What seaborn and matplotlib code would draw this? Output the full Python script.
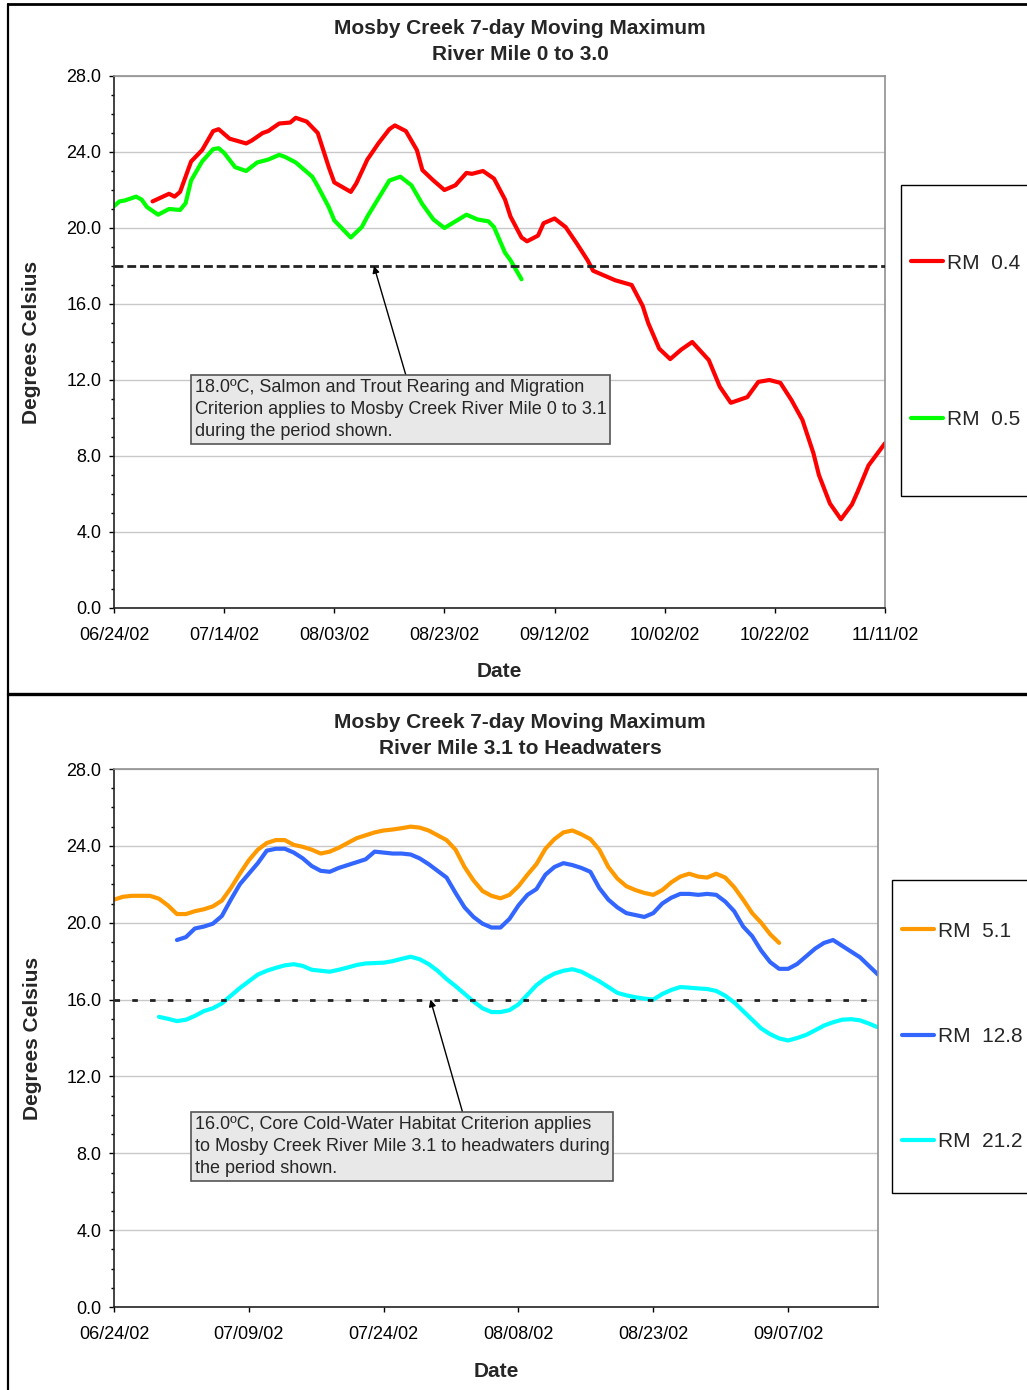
import numpy as np
import pandas as pd
import seaborn as sns
import matplotlib
matplotlib.use("Agg")
import matplotlib.pyplot as plt
import matplotlib.dates as mdates
from matplotlib.ticker import MultipleLocator, FormatStrFormatter
from matplotlib.patches import Rectangle
from matplotlib.lines import Line2D

sns.set_theme(style="white")
plt.rcParams['font.family'] = ['Liberation Sans', 'DejaVu Sans']

START = pd.Timestamp("2002-06-24")

# ---- top chart: River Mile 0 to 3.0 (days after 06/24/02, degrees C)
rm04_day = [7, 10, 11, 12, 14, 16, 18, 19, 21, 24, 25, 27, 28, 30, 32, 33, 35, 37, 39, 40,
            43, 44, 46, 48, 50, 51, 53, 55, 56, 58, 60, 62, 64, 65, 67, 69, 71, 72, 74, 75,
            77, 78, 80, 82, 84, 86, 87, 89, 91, 94, 96, 97, 99, 101, 103, 105, 108, 110, 112, 115,
            117, 119, 121, 123, 125, 127, 128, 130, 132, 134, 135, 137, 140]
rm04_temp = [21.4, 21.8, 21.65, 21.9, 23.5, 24.1, 25.1, 25.2, 24.7, 24.45, 24.6, 25.0, 25.1, 25.5, 25.55, 25.8, 25.6, 25.0, 23.2, 22.4,
             21.9, 22.35, 23.6, 24.45, 25.2, 25.4, 25.1, 24.1, 23.05, 22.5, 22.0, 22.25, 22.9, 22.85, 23.0, 22.6, 21.5, 20.6, 19.5, 19.3,
             19.6, 20.25, 20.5, 20.05, 19.2, 18.3, 17.75, 17.5, 17.25, 17.0, 15.9, 15.0, 13.65, 13.1, 13.6, 14.0, 13.05, 11.65, 10.8, 11.1,
             11.9, 12.0, 11.85, 10.95, 9.9, 8.15, 7.0, 5.5, 4.67, 5.45, 6.1, 7.5, 8.67]

rm05_day = [0, 1, 2, 4, 5, 6, 8, 10, 12, 13, 14, 16, 18, 19, 20, 22, 24, 26, 28, 30,
            31, 33, 36, 37, 39, 40, 43, 45, 46, 48, 50, 52, 54, 56, 58, 60, 62, 64, 66, 68,
            69, 71, 72, 74]
rm05_temp = [21.15, 21.4, 21.45, 21.65, 21.5, 21.1, 20.7, 21.0, 20.95, 21.3, 22.5, 23.5, 24.15, 24.2, 23.95, 23.2, 23.0, 23.45, 23.6, 23.85,
             23.75, 23.45, 22.7, 22.2, 21.1, 20.4, 19.5, 20.05, 20.6, 21.55, 22.5, 22.7, 22.25, 21.25, 20.45, 20.0, 20.35, 20.7, 20.45, 20.35,
             20.05, 18.7, 18.3, 17.3]

# ---- bottom chart: River Mile 3.1 to Headwaters
rm51_day = list(range(0, 75))
rm51_temp = [21.2, 21.35, 21.4, 21.4, 21.4, 21.25, 20.9, 20.45, 20.45, 20.6,
             20.7, 20.85, 21.15, 21.8, 22.55, 23.25, 23.8, 24.15, 24.3, 24.3,
             24.05, 23.95, 23.8, 23.6, 23.7, 23.9, 24.15, 24.4, 24.55, 24.7,
             24.8, 24.85, 24.92, 25.0, 24.95, 24.8, 24.55, 24.3, 23.8, 22.9,
             22.2, 21.65, 21.4, 21.27, 21.45, 21.9, 22.5, 23.05, 23.85, 24.35,
             24.7, 24.8, 24.6, 24.35, 23.8, 22.9, 22.3, 21.9, 21.7, 21.55,
             21.45, 21.7, 22.1, 22.4, 22.55, 22.4, 22.35, 22.55, 22.35, 21.85,
             21.2, 20.5, 20.0, 19.4, 18.95]

rm128_day = list(range(7, 86))
rm128_temp = [19.1, 19.25, 19.7, 19.8, 19.95, 20.35, 21.2, 22.0, 22.55, 23.1,
              23.75, 23.85, 23.85, 23.65, 23.35, 22.95, 22.7, 22.65, 22.85, 23.0,
              23.15, 23.3, 23.7, 23.65, 23.6, 23.6, 23.55, 23.35, 23.05, 22.7,
              22.35, 21.55, 20.8, 20.3, 19.95, 19.75, 19.75, 20.2, 20.9, 21.45,
              21.75, 22.5, 22.9, 23.1, 23.0, 22.85, 22.65, 21.8, 21.2, 20.8,
              20.5, 20.4, 20.3, 20.5, 21.0, 21.3, 21.5, 21.5, 21.45, 21.5,
              21.45, 21.1, 20.6, 19.8, 19.3, 18.55, 17.95, 17.6, 17.6, 17.85,
              18.25, 18.65, 18.95, 19.1, 18.8, 18.5, 18.2, 17.75, 17.3]

rm212_day = list(range(5, 86))
rm212_temp = [15.1, 15.0, 14.88, 14.95, 15.15, 15.4, 15.55, 15.8, 16.2, 16.6,
              16.95, 17.3, 17.5, 17.65, 17.78, 17.84, 17.75, 17.55, 17.5, 17.45,
              17.55, 17.67, 17.8, 17.88, 17.9, 17.92, 18.0, 18.12, 18.23, 18.1,
              17.85, 17.5, 17.07, 16.7, 16.3, 15.9, 15.55, 15.35, 15.35, 15.45,
              15.75, 16.25, 16.75, 17.1, 17.35, 17.5, 17.58, 17.45, 17.2, 16.95,
              16.65, 16.35, 16.22, 16.12, 16.05, 16.0, 16.29, 16.5, 16.65, 16.62,
              16.58, 16.55, 16.45, 16.2, 15.85, 15.4, 14.95, 14.5, 14.2, 13.98,
              13.87, 14.0, 14.16, 14.4, 14.65, 14.82, 14.95, 14.98, 14.92, 14.75,
              14.55]

top_sites = ["RM  0.4", "RM  0.5"]
top_colors = ["#ff0000", "#00ff00"]
bot_sites = ["RM  5.1", "RM  12.8", "RM  21.2"]
bot_colors = ["#ff9900", "#3366ff", "#00ffff"]

note_top = ("18.0ºC, Salmon and Trout Rearing and Migration\n"
            "Criterion applies to Mosby Creek River Mile 0 to 3.1\n"
            "during the period shown.")
note_bot = ("16.0ºC, Core Cold-Water Habitat Criterion applies\n"
            "to Mosby Creek River Mile 3.1 to headwaters during\n"
            "the period shown.")


def long_frame(days, temps, sites):
    parts = []
    for d, t, s in zip(days, temps, sites):
        parts.append(pd.DataFrame({"date": START + pd.to_timedelta(d, unit="D"),
                                   "temp": t, "site": s}))
    return pd.concat(parts, ignore_index=True)


top_df = long_frame([rm04_day, rm05_day], [rm04_temp, rm05_temp], top_sites)
bot_df = long_frame([rm51_day, rm128_day, rm212_day],
                    [rm51_temp, rm128_temp, rm212_temp], bot_sites)

W, H = 1027, 1390
fig = plt.figure(figsize=(W / 100, H / 100), dpi=100)
fig.patch.set_facecolor("white")


def fx(px):
    return px / W


def fy(py):
    return 1 - py / H


def style_axes(ax, ndays, step, nticks, xlab_y, ylab_x):
    ax.set_ylim(0, 28)
    ax.set_xlim(START, START + pd.Timedelta(days=ndays))
    ax.set_yticks(np.arange(0, 28.1, 4))
    ax.yaxis.set_major_formatter(FormatStrFormatter("%.1f"))
    ax.yaxis.set_minor_locator(MultipleLocator(1))
    ax.set_xticks(pd.date_range(START, periods=nticks, freq=f"{step}D"))
    ax.xaxis.set_major_formatter(mdates.DateFormatter("%m/%d/%y"))
    ax.grid(axis="y", which="major", color="#c8c8c8", lw=1)
    ax.set_axisbelow(True)
    ax.tick_params(which="both", direction="out", colors="black", labelsize=13)
    ax.tick_params(axis="y", which="major", left=True, length=3.6, width=1, pad=5.5)
    ax.tick_params(axis="y", which="minor", left=True, length=2.3, width=1)
    ax.tick_params(axis="x", which="major", bottom=True, length=3.6, width=1, pad=10)
    for s in ["top", "right"]:
        ax.spines[s].set_color("#909090")
        ax.spines[s].set_linewidth(1.2)
    for s in ["left", "bottom"]:
        ax.spines[s].set_color("#222222")
        ax.spines[s].set_linewidth(1.2)
    ax.set_xlabel("Date", fontsize=15, fontweight="bold")
    ax.set_ylabel("Degrees Celsius", fontsize=15, fontweight="bold")
    ax.xaxis.set_label_coords(0.5, xlab_y)
    ax.xaxis.label.set_va("center")
    ax.yaxis.set_label_coords(ylab_x, 0.5)
    ax.yaxis.label.set_va("center")


def panel(df, sites, colors, rect, ndays, step, nticks, crit, dash, note,
          arrow_day, text_day, text_temp, relx, xlab_y, ylab_x,
          title_y, legend_box, legend_y, legend_x, spacing):
    ax = fig.add_axes(rect)
    sns.lineplot(data=df, x="date", y="temp", hue="site", hue_order=sites,
                 palette=dict(zip(sites, colors)), lw=3, sort=True,
                 errorbar=None, ax=ax)
    leg = ax.get_legend()
    handles = leg.legend_handles
    labels = [t.get_text() for t in leg.get_texts()]
    leg.remove()
    for h in handles:
        h.set_linewidth(3)
    for ln in ax.get_lines():
        ln.set_solid_joinstyle("round")
        ln.set_solid_capstyle("round")
    ax.axhline(crit, color="#222222", lw=2.0, ls=(0, dash), zorder=3)
    style_axes(ax, ndays, step, nticks, xlab_y, ylab_x)
    ax.annotate(note,
                xy=(mdates.date2num(START + pd.Timedelta(days=arrow_day)), crit),
                xytext=(mdates.date2num(START + pd.Timedelta(days=text_day)), text_temp),
                textcoords="data", ha="left", va="top", fontsize=13, linespacing=1.38,
                bbox=dict(boxstyle="square,pad=0.2", fc="#e8e8e8", ec="#555555", lw=1.2),
                arrowprops=dict(arrowstyle="-|>", color="black", lw=1, mutation_scale=10,
                                shrinkA=0, shrinkB=0, relpos=(relx, 1.0)),
                zorder=6)
    fig.text(fx(520), fy(title_y[0]), "Mosby Creek 7-day Moving Maximum",
             ha="center", va="center", fontsize=15, fontweight="bold")
    fig.text(fx(520), fy(title_y[1]), title_y[2],
             ha="center", va="center", fontsize=15, fontweight="bold")
    bx, by0, by1 = legend_box
    fig.add_artist(Rectangle((fx(bx), fy(by1)), 0.3, (by1 - by0) / H,
                             transform=fig.transFigure, fc="white", ec="black",
                             lw=1, zorder=1))
    fig.legend(handles, labels, loc="center left",
               bbox_to_anchor=(fx(legend_x), fy(legend_y)),
               bbox_transform=fig.transFigure, frameon=False, fontsize=15,
               handlelength=1.55, handletextpad=0.2, labelspacing=spacing,
               borderpad=0, borderaxespad=0)
    return ax


panel(top_df, top_sites, top_colors,
      [fx(114), fy(608), fx(885) - fx(114), (608 - 76) / H],
      140, 20, 8, 18.0, (3.2, 1.4), note_top,
      47.2, 14.7, 12.05, 0.515, -0.1185, -0.1064,
      (29, 55, "River Mile 0 to 3.0"), (901, 185, 496), 341.5, 911, 6.6)

panel(bot_df, bot_sites, bot_colors,
      [fx(114), fy(1307), fx(878) - fx(114), (1307 - 769) / H],
      85, 15, 6, 16.0, (2.0, 4.4), note_bot,
      35.2, 9.0, 9.94, 0.648, -0.1195, -0.1073,
      (722, 748, "River Mile 3.1 to Headwaters"), (892, 880, 1193), 1036.5, 902, 4.15)

# outer frame of the figure page
fig.add_artist(Line2D([fx(8), 1], [fy(4), fy(4)], color="black", lw=2,
                      transform=fig.transFigure))
fig.add_artist(Line2D([fx(8), fx(8)], [0, fy(4)], color="black", lw=1.6,
                      transform=fig.transFigure))
fig.add_artist(Line2D([fx(8), 1], [fy(694), fy(694)], color="black", lw=2.4,
                      transform=fig.transFigure))

fig.savefig("out.png", dpi=100)
